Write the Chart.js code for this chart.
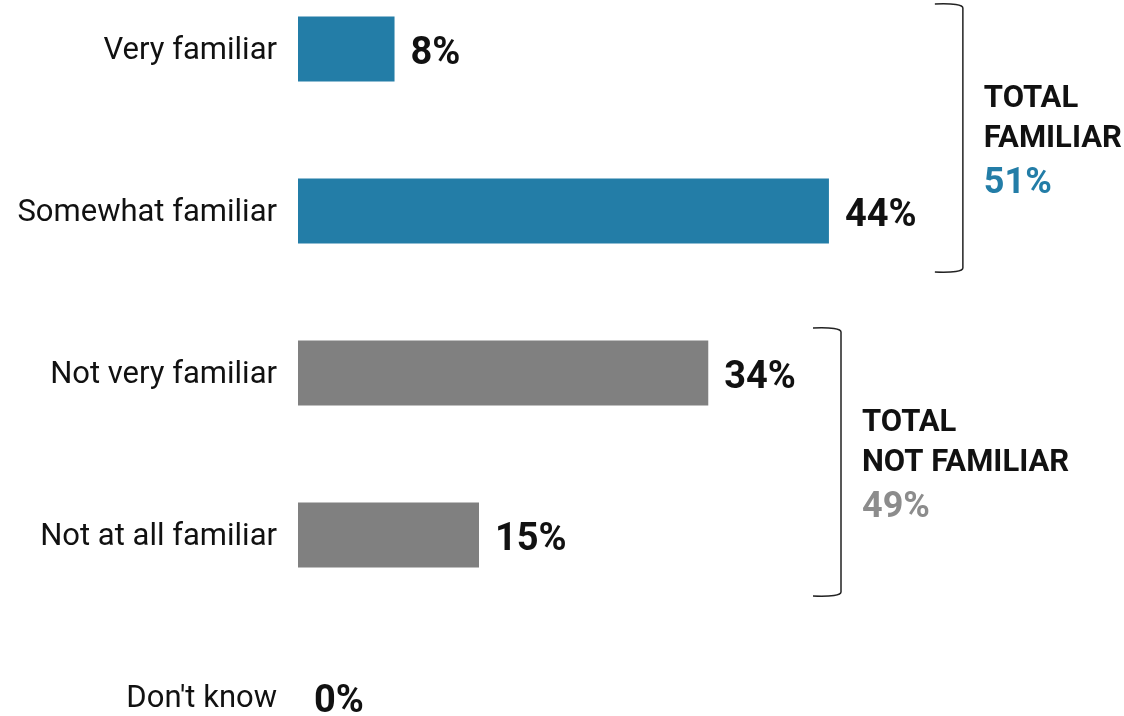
<!DOCTYPE html>
<html>
<head>
<meta charset="utf-8">
<script src="https://cdn.jsdelivr.net/npm/chart.js@4/dist/chart.umd.min.js"></script>
<style>
  html, body { margin: 0; padding: 0; background: #fff; }
  #wrap { width: 1124px; height: 716px; position: relative; }
</style>
</head>
<body>
<div id="wrap"><canvas id="myChart"></canvas></div>
<script>
const labels = [
  'Very familiar',
  'Somewhat familiar',
  'Not very familiar',
  'Not at all familiar',
  "Don't know",
];
const values = [8, 44, 34, 15, 0];

const BLUE = '#237da7';
const GRAY = '#808080';
const barColors = [BLUE, BLUE, GRAY, GRAY, GRAY];

// grupos con su total (primera y ultima categoria del grupo)
const groupNames = [['TOTAL', 'FAMILIAR'], ['TOTAL', 'NOT FAMILIAR']];
const groupTotals = [51, 49];
const groupRanges = [[0, 1], [2, 3]];
const groupColors = [BLUE, '#8c8c8c'];

const FONT = 'Roboto, "Liberation Sans", sans-serif';

// etiqueta de valor a la derecha de cada barra
const valueLabels = {
  id: 'valueLabels',
  afterDatasetsDraw(chart) {
    const ctx = chart.ctx;
    const meta = chart.getDatasetMeta(0);
    ctx.save();
    ctx.font = 'bold 38px ' + FONT;
    ctx.fillStyle = '#111';
    ctx.textAlign = 'left';
    ctx.textBaseline = 'middle';
    meta.data.forEach((bar, i) => {
      ctx.fillText(values[i] + '%', bar.x + 16, bar.y + 5);
    });
    ctx.restore();
  }
};

// corchetes con el total de cada grupo
const groupBrackets = {
  id: 'groupBrackets',
  afterDraw(chart, args, opts) {
    const ctx = chart.ctx;
    const x = chart.scales.x;
    const y = chart.scales.y;
    ctx.save();
    groupRanges.forEach((r, g) => {
      const bx = x.getPixelForValue(opts.at[g]);
      const top = y.getPixelForValue(r[0]) - 45;
      const bottom = y.getPixelForValue(r[1]) + 61;
      const r0 = 4;
      ctx.strokeStyle = '#222';
      ctx.lineWidth = 1.5;
      ctx.beginPath();
      ctx.moveTo(bx - 28, top);
      ctx.quadraticCurveTo(bx, top - 1, bx, top + r0);
      ctx.lineTo(bx, bottom - r0);
      ctx.quadraticCurveTo(bx, bottom + 1, bx - 28, bottom);
      ctx.stroke();

      const mid = (top + bottom) / 2;
      const tx = bx + 21;
      ctx.textAlign = 'left';
      ctx.textBaseline = 'alphabetic';
      ctx.fillStyle = '#111';
      ctx.font = 'bold 31px ' + FONT;
      ctx.fillText(groupNames[g][0], tx, mid - 31);
      ctx.fillText(groupNames[g][1], tx, mid + 9);
      ctx.fillStyle = groupColors[g];
      ctx.font = 'bold 36px ' + FONT;
      ctx.fillText(groupTotals[g] + '%', tx, mid + 55);
    });
    ctx.restore();
  }
};

const data = {
  labels: labels,
  datasets: [{
    data: values,
    backgroundColor: barColors,
    borderWidth: 0,
    inflateAmount: 0,
    barThickness: 65,
    clip: false,
  }]
};

const config = {
  type: 'bar',
  data,
  options: {
    indexAxis: 'y',
    responsive: true,
    maintainAspectRatio: false,
    animation: false,
    layout: { padding: { top: 49, bottom: 19, left: 0, right: 102 } },
    plugins: {
      legend: { display: false },
      tooltip: { enabled: false },
      groupBrackets: { at: [55.1, 45] },
    },
    scales: {
      x: {
        display: false,
        min: 0,
        max: 60,
      },
      y: {
        offset: false,
        grid: { display: false },
        border: { display: false },
        ticks: {
          color: '#111',
          padding: 13,
          labelOffset: 2,
          font: { family: FONT, size: 31 },
        },
        afterFit(scale) {
          scale.width = 298;
          scale.paddingTop = 0;
          scale.paddingBottom = 0;
        },
      }
    }
  },
  plugins: [valueLabels, groupBrackets]
};

const myChart = new Chart(document.getElementById('myChart'), config);
</script>
</body>
</html>
